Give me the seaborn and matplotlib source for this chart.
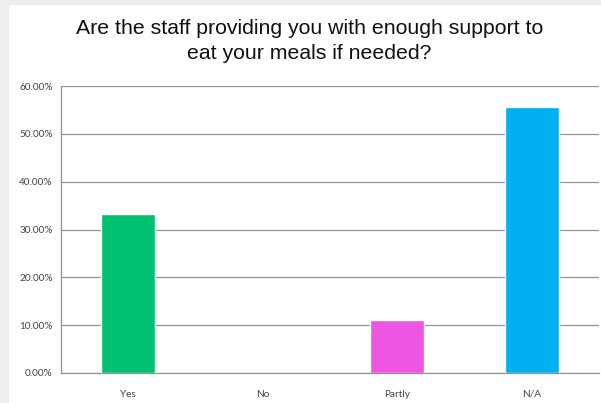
import matplotlib
matplotlib.use("Agg")
import matplotlib.pyplot as plt
import seaborn as sns
import pandas as pd
from matplotlib.patches import Rectangle
from matplotlib.ticker import FixedLocator

categories = ["Yes", "No", "Partly", "N/A"]
values = [33.33, 0.0, 11.11, 55.56]
colors = ["#00C171", "#999999", "#EE55E2", "#00B0F0"]
yticks = [0, 10, 20, 30, 40, 50, 60]
title = "Are the staff providing you with enough support to\neat your meals if needed?"

sns.set_theme(style="white")
plt.rcParams['font.family'] = ['Lato', 'DejaVu Sans']

df = pd.DataFrame({"cat": categories, "val": values})

fig = plt.figure(figsize=(6.01, 4.03), dpi=100)
# subtle shadow border
fig.patches.append(Rectangle((0, 0), 8/601, 1, transform=fig.transFigure, color="#EEEEEE", zorder=0))
fig.patches.append(Rectangle((0, 1-4/403), 1, 4/403, transform=fig.transFigure, color="#EEEEEE", zorder=0))

ax = fig.add_axes([61/601, 1-373/403, (599-61)/601, (373-86)/403])
sns.barplot(data=df, x="cat", y="val", hue="cat", palette=colors, legend=False,
            width=0.4, ax=ax, saturation=1)

ax.set_xlim(-0.5, 3.5)
ax.set_ylim(0, 60)
ax.set_yticks(yticks)
ax.set_yticklabels([f"{t:.2f}%" for t in yticks], fontsize=7.2, color="#444444")
ax.yaxis.grid(True, color="#939393", linewidth=0.9)
ax.set_axisbelow(True)
ax.set_xlabel("")
ax.set_ylabel("")
ax.tick_params(axis="x", length=0, labelsize=7.2, labelcolor="#444444", pad=12)
ax.xaxis.set_minor_locator(FixedLocator([-0.5, 0.5, 1.5, 2.5, 3.5]))
ax.tick_params(axis="x", which="minor", length=4, color="#939393", width=0.9, direction="out")
ax.tick_params(axis="y", length=4, color="#939393", width=0.9, direction="out", pad=2)
for s in ["top", "right"]:
    ax.spines[s].set_visible(False)
for s in ["left", "bottom"]:
    ax.spines[s].set_color("#939393")
    ax.spines[s].set_linewidth(0.9)

fig.text(0.515, 1-41/403, title, ha="center", va="center", fontsize=15.3,
         family=["Liberation Sans", "DejaVu Sans"], color="#111111", linespacing=1.45)

fig.savefig("out.png", dpi=100)
